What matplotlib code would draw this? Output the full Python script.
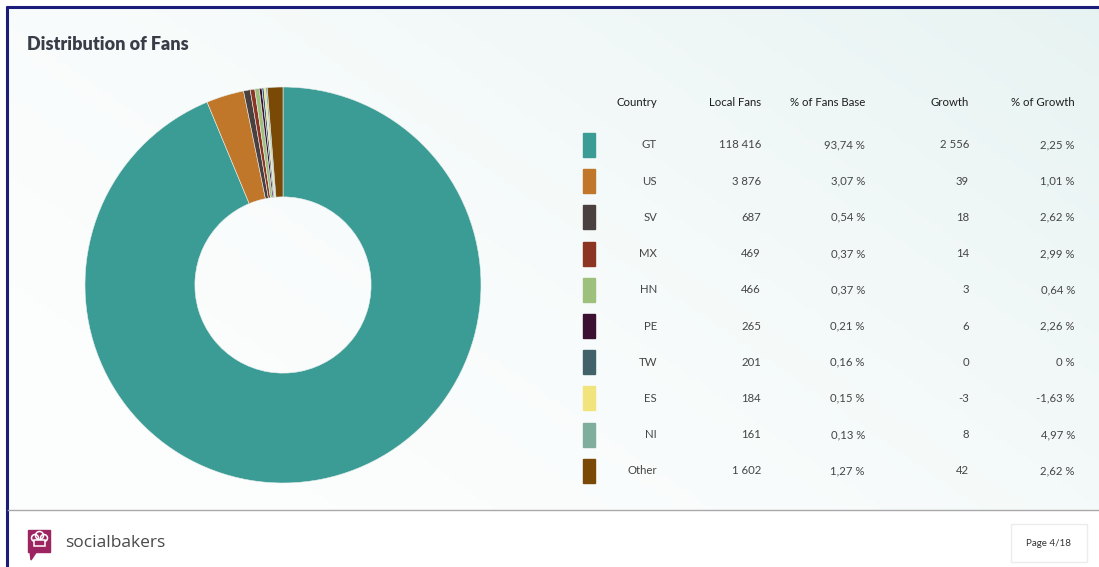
import numpy as np
import matplotlib.pyplot as plt
from matplotlib.patches import Rectangle, Polygon, Circle

# fan distribution by country
countries = ['GT', 'US', 'SV', 'MX', 'HN', 'PE', 'TW', 'ES', 'NI', 'Other']
local_fans = [118416, 3876, 687, 469, 466, 265, 201, 184, 161, 1602]
fans_base_pct = ['93,74 %', '3,07 %', '0,54 %', '0,37 %', '0,37 %', '0,21 %', '0,16 %',
                 '0,15 %', '0,13 %', '1,27 %']
growth = [2556, 39, 18, 14, 3, 6, 0, -3, 8, 42]
growth_pct = ['2,25 %', '1,01 %', '2,62 %', '2,99 %', '0,64 %', '2,26 %', '0 %',
              '-1,63 %', '4,97 %', '2,62 %']
colors = ['#3a9c94', '#c0772a', '#4a4040', '#8c3522', '#9dc07c', '#3b1030', '#42626a',
          '#f2e47c', '#80ae9c', '#7a4906']
headers = ['Country', 'Local Fans', '% of Fans Base', 'Growth', '% of Growth']

W, H = 1099, 567
FONT = 'Lato'


def fmt_thousands(n):
    return f"{n:,}".replace(',', ' ')


fig = plt.figure(figsize=(W / 100, H / 100), dpi=100)

# page canvas in pixel coordinates
bg = fig.add_axes([0, 0, 1, 1])
bg.set_xlim(0, W)
bg.set_ylim(H, 0)
bg.axis('off')

# soft pale-mint wash behind the content area
gx = np.linspace(0, 1, 200)
gy = np.linspace(0, 1, 100)
X, Y = np.meshgrid(gx, gy)
t = np.clip(0.6 * X + 0.4 * (1 - Y) - 0.1, 0, 1) ** 1.6
c0 = np.array([0.99, 0.995, 0.995])
c1 = np.array([0.89, 0.945, 0.94])
wash = c0[None, None, :] * (1 - t[..., None]) + c1[None, None, :] * t[..., None]
bg.imshow(wash, extent=[8, W, 510, 8], aspect='auto', zorder=0)

# frame lines
bg.add_patch(Rectangle((0, 0), W, 6, color='white', zorder=1))
bg.add_patch(Rectangle((0, 0), 6, H, color='white', zorder=1))
bg.plot([6, W], [7, 7], color='#1c1c7a', lw=2.2, zorder=2, solid_capstyle='butt')
bg.plot([7, 7], [6, H], color='#1c1c7a', lw=2.2, zorder=2, solid_capstyle='butt')

# footer
bg.add_patch(Rectangle((8, 510), W - 8, H - 510, color='white', zorder=1))
bg.plot([8, W], [510, 510], color='#a9a9a9', lw=1.0, zorder=2)

bg.text(27, 45, 'Distribution of Fans', fontsize=13, fontweight='heavy',
        color='#383d48', family=FONT, va='center', ha='left', zorder=3)

# logo
bg.add_patch(Rectangle((28, 530), 22, 22, color='#9c2460', zorder=3))
bg.add_patch(Polygon([[30, 551], [37, 551], [31, 560]], closed=True, color='#9c2460', zorder=3))
for cx, cy, r in [(35, 538, 3.5), (39.5, 535.5, 4), (44, 538, 3.5)]:
    bg.add_patch(Circle((cx, cy), r, fill=False, ec='white', lw=1.1, zorder=4))
bg.add_patch(Rectangle((34, 540), 11, 6, fc='#9c2460', ec='white', lw=1.1, zorder=5))
bg.text(65, 543, 'socialbakers', fontsize=12.5, color='#4a4a4a', family='Open Sans',
        va='center', ha='left', zorder=3)

bg.add_patch(Rectangle((1011, 524), 76, 38, fc='white', ec='#ececec', lw=1.0, zorder=3))
bg.text(1049, 543, 'Page 4/18', fontsize=7, color='#333333', family=FONT,
        va='center', ha='center', zorder=4)

# table
col_x = [657, 761, 865, 969, 1075]
header_y = 102
row_y0, row_step = 145, 36.2

for hx, label in zip(col_x, headers):
    bg.text(hx, header_y, label, fontsize=8.2, color='#1e1e1e', family=FONT,
            ha='right', va='center', zorder=3)

for i, country in enumerate(countries):
    y = row_y0 + i * row_step
    bg.add_patch(Rectangle((583, y - 12), 12, 24, color=colors[i], zorder=3))
    cells = [country, fmt_thousands(local_fans[i]), fans_base_pct[i],
             fmt_thousands(growth[i]), growth_pct[i]]
    for cx, val in zip(col_x, cells):
        bg.text(cx, y, val, fontsize=8.2, color='#454545', family=FONT,
                ha='right', va='center', zorder=3)

# donut chart
cx, cy, r = 283, 285, 198
ax = fig.add_axes([(cx - r) / W, 1 - (cy + r) / H, 2 * r / W, 2 * r / H])
ax.pie(local_fans, colors=colors, startangle=90, counterclock=False,
       wedgeprops=dict(width=0.555, linewidth=0.4, edgecolor='#e8eeee'))
ax.set_xlim(-1, 1)
ax.set_ylim(-1, 1)
ax.set_aspect('equal')
ax.axis('off')

fig.savefig('out.png', dpi=100)
